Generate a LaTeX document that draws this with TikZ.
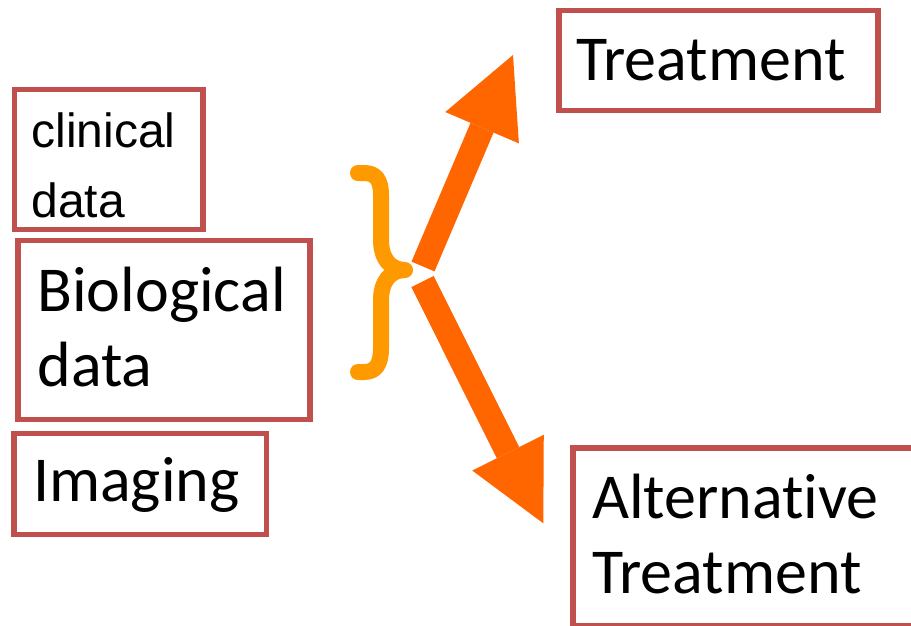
\documentclass[tikz,border=0pt]{standalone}
\usepackage{fontspec}
\usetikzlibrary{arrows.meta}
\newfontfamily\carl[Ligatures=NoCommon]{Carlito}
\newfontfamily\arialf{Liberation Sans}
\definecolor{boxred}{RGB}{192,80,77}
\definecolor{arroworange}{RGB}{255,102,0}
\definecolor{braceorange}{RGB}{255,153,0}
\newcommand{\onebox}[5]{\vbox to #2{\offinterlineskip\hrule height0pt width#1\relax\vskip#3\relax\hbox{\hskip#4\relax\smash{#5}}\vfill}}
\newcommand{\twobox}[7]{\vbox to #2{\offinterlineskip\hrule height0pt width#1\relax\vskip#3\relax\hbox{\hskip#5\relax\smash{#6}}\vskip#4\relax\hbox{\hskip#5\relax\smash{#7}}\vfill}}
\tikzset{
  databox/.style={draw=boxred, line width=5.5pt, inner sep=0pt, outer sep=0pt, anchor=north west},
  bigfont/.style={font=\carl\fontsize{64}{75}\selectfont},
  smallfont/.style={font=\arialf\fontsize{48}{56}\selectfont},
  bigarrow/.style={draw=arroworange, line width=25pt, line cap=butt,
    -{Triangle[width=80pt,length=79pt,line width=0pt]}},
  bracestyle/.style={draw=braceorange, line width=16pt, line cap=round, line join=round}
}
\begin{document}
\begin{tikzpicture}[x=1pt,y=-1pt]
\useasboundingbox (0,0) rectangle (911,625);
\clip (0,0) rectangle (911,625);
\fill[white] (0,0) rectangle (911,625);
% boxes
\node[databox, smallfont] (clin) at (14.5,89.7) {\twobox{188.5pt}{140pt}{57.3pt}{70pt}{17pt}{clinical}{data}};
\node[databox, bigfont] (bio) at (18,240.7) {\twobox{292pt}{179pt}{71pt}{75pt}{19.5pt}{Biological}{data}};
\node[databox, bigfont] (img) at (14,433.3) {\onebox{252.3pt}{101pt}{68.4pt}{19pt}{Imaging}};
\node[databox, bigfont] (treat) at (559,10.7) {\onebox{319pt}{100pt}{69.3pt}{17pt}{Treatment}};
\node[databox, bigfont] (alt) at (573,448) {\twobox{345pt}{177.5pt}{70pt}{75pt}{19pt}{Alternative}{Treatment}};
% brace
\draw[bracestyle] (358,173) -- (364,173) .. controls (376,173) and (381,180) .. (381,195)
  -- (381,240) .. controls (381,258) and (390,270) .. (405,270)
  .. controls (390,270) and (381,282) .. (381,300)
  -- (381,348) .. controls (381,364) and (376,372) .. (364,372) -- (358,372);
% arrows
\coordinate (upS) at (423,266.5);
\coordinate (upT) at (513,55);
\coordinate (dnS) at (422.5,281.5);
\coordinate (dnT) at (543.3,523.3);
\draw[bigarrow] (upS) -- (upT);
\draw[bigarrow] (dnS) -- (dnT);
\end{tikzpicture}
\end{document}
